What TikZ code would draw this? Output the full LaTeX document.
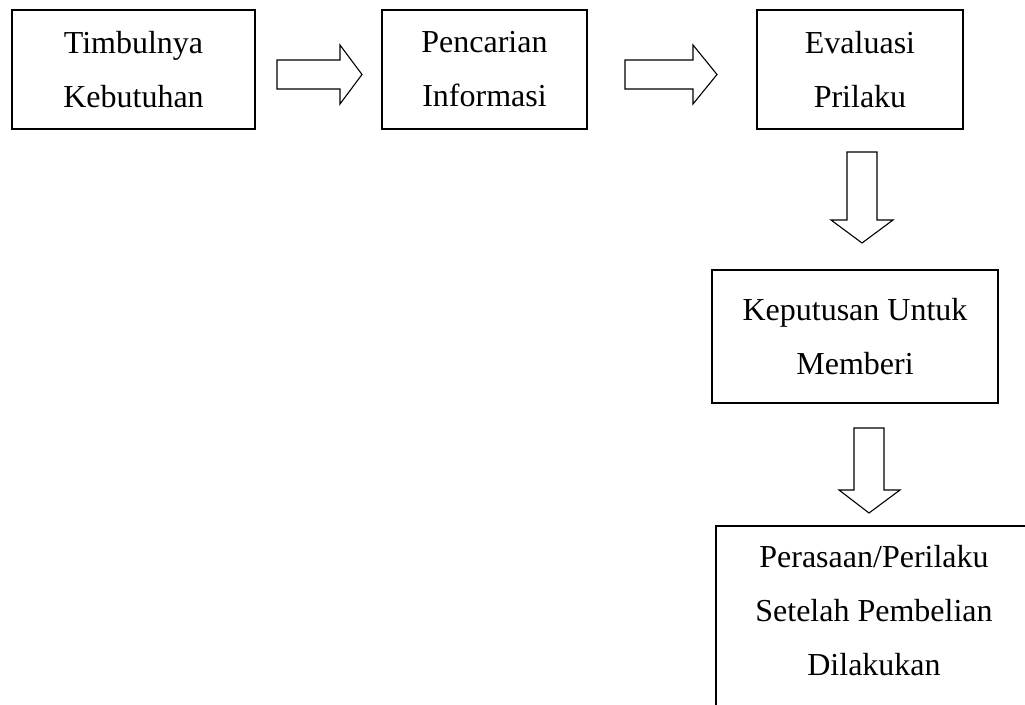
\documentclass[tikz,border=0pt]{standalone}
\usepackage{fontspec}
\setmainfont{Liberation Serif}
\begin{document}
\begin{tikzpicture}[x=1pt,y=-1pt,
  box/.style={draw=black,line width=1.6pt,rectangle,inner sep=0pt,
    align=center,font=\fontsize{32}{54}\selectfont},
  txt/.style={inner sep=0pt,align=center,font=\fontsize{32}{54}\selectfont},
  blockarrow/.style={draw=black,line width=1.1pt,fill=white,line join=miter}]
\useasboundingbox (0,0) rectangle (1025,704);
\clip (0,0) rectangle (1025,704);
\fill[white] (0,0) rectangle (1025,704);
% boxes
\node[box,minimum width=243pt,minimum height=119pt] (b1) at (133.5,69.5) {Timbulnya\\Kebutuhan};
\node[box,minimum width=205pt,minimum height=119pt] (b2) at (484.5,69.5) {Pencarian\\Informasi};
\node[box,minimum width=206pt,minimum height=119pt] (b3) at (860,69.5) {Evaluasi\\Prilaku};
\node[box,minimum width=286pt,minimum height=133pt] (b4) at (855,336.5) {Keputusan Untuk\\Memberi};
\node[box,minimum width=318pt,minimum height=240pt,anchor=north west] (b5) at (715,525) {};
\node[txt] (t5) at (874,611) {Perasaan/Perilaku\\Setelah Pembelian\\Dilakukan};
% block arrows
\draw[blockarrow] (277,60) -- (340,60) -- (340,45) -- (362,74.5) -- (340,104) -- (340,89) -- (277,89) -- cycle;
\draw[blockarrow] (625,60) -- (693,60) -- (693,45) -- (717,74.5) -- (693,104) -- (693,89) -- (625,89) -- cycle;
\draw[blockarrow] (847,152) -- (877,152) -- (877,220) -- (893,220) -- (862,243) -- (831,220) -- (847,220) -- cycle;
\draw[blockarrow] (854,428) -- (884,428) -- (884,490) -- (900,490) -- (869,513) -- (839,490) -- (854,490) -- cycle;
\end{tikzpicture}
\end{document}
